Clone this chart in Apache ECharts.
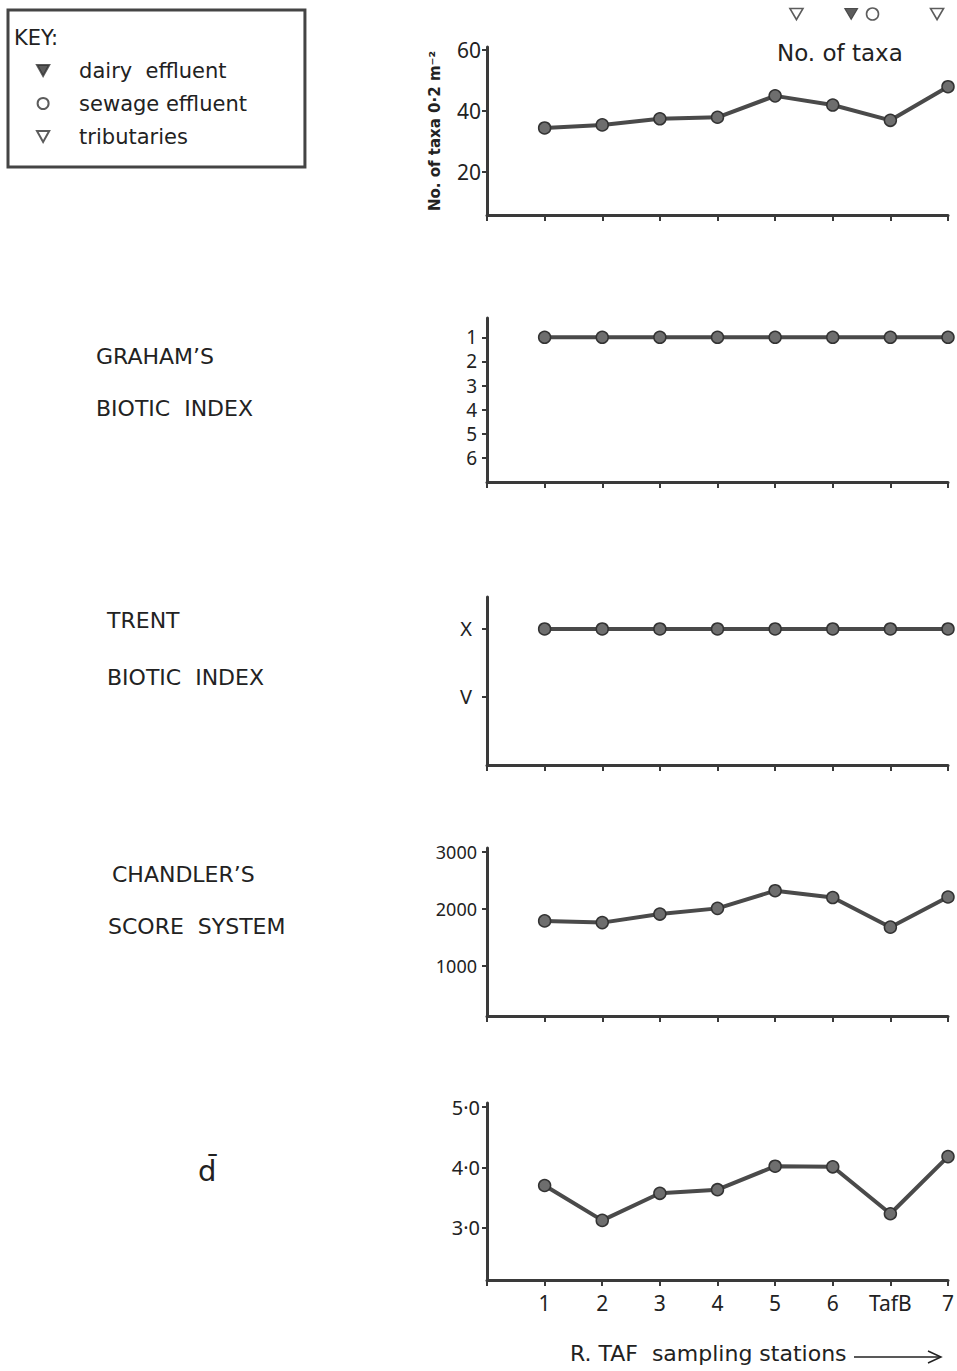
<!DOCTYPE html>
<html>
<head>
<meta charset="utf-8">
<script src="https://cdn.jsdelivr.net/npm/echarts@6/dist/echarts.min.js"></script>
<style>
html,body{margin:0;padding:0;background:#fff;}
#chart{width:957px;height:1371px;}
</style>
</head>
<body>
<div id="chart"></div>
<script>
// ---- data ----
const stations = ['', '1', '2', '3', '4', '5', '6', 'TafB', '7'];
const taxa = [34.5, 35.5, 37.5, 38, 45, 42, 37, 48];
const graham = [1, 1, 1, 1, 1, 1, 1, 1];
const trent = [10, 10, 10, 10, 10, 10, 10, 10];
const chandler = [1790, 1760, 1910, 2010, 2320, 2200, 1680, 2210];
const dbar = [3.7, 3.12, 3.57, 3.63, 4.02, 4.01, 3.23, 4.18];

const taxaTicks = [20, 40, 60];
const grahamTicks = [1, 2, 3, 4, 5, 6];
const trentTicks = [5, 10];
const trentTickLabels = ['V', 'X'];
const chandlerTicks = [1000, 2000, 3000];
const dTicks = [3, 4, 5];

// input positions along the river (station index scale)
const dairyPos = [6.32];
const sewagePos = [6.69];
const tributaryPos = [5.37, 7.81];

const legendNames = ['dairy  effluent', 'sewage effluent', 'tributaries'];

// ---- styles ----
const INK = '#3a3a3a';
const FONT = '"Noto Sans", "DejaVu Sans", sans-serif';
const WIDE = '"DejaVu Sans", sans-serif';
const downTri = 'path://M0,0L10,0L5,9Z';

const chart = echarts.init(document.getElementById('chart'), null, {renderer: 'svg'});

const gridsPx = [
  {top: 4, height: 20},      // input markers
  {top: 47, height: 168},    // taxa
  {top: 318, height: 164},   // graham
  {top: 597, height: 168},   // trent
  {top: 848, height: 168},   // chandler
  {top: 1103, height: 177}   // d bar
];
const grid = gridsPx.map(g => ({left: 487, right: 9, top: g.top, height: g.height, containLabel: false}));

function xAx(i, showLabels) {
  return {
    type: 'value', gridIndex: i, min: 0, max: 8, interval: 1,
    show: i !== 0,
    axisLine: {show: true, onZero: false, lineStyle: {color: INK, width: 3}},
    axisTick: {show: true, length: 6, lineStyle: {color: INK, width: 2}},
    axisLabel: {show: showLabels, margin: 12, fontSize: 21, color: '#222', fontFamily: FONT,
      formatter: v => stations[v] || ''},
    splitLine: {show: false}
  };
}
function yAx(i, o) {
  return Object.assign({
    type: 'value', gridIndex: i,
    axisLine: {show: true, onZero: false, lineStyle: {color: INK, width: 3}},
    axisTick: {show: true, length: 5, customValues: o.ticks, lineStyle: {color: INK, width: 2}},
    axisLabel: {show: true, margin: o.margin || 8, fontSize: o.size || 20, lineHeight: o.lh || undefined,
      color: '#222', fontFamily: FONT, customValues: o.ticks, formatter: o.fmt || (v => String(v))},
    splitLine: {show: false}
  }, o.extra);
}

const xAxis = [xAx(0, false), xAx(1, false), xAx(2, false), xAx(3, false), xAx(4, false), xAx(5, true)];
const yAxis = [
  {type: 'value', gridIndex: 0, min: 0, max: 1, show: false},
  yAx(1, {ticks: taxaTicks, margin: 6, size: 21, extra: {min: 6, max: 61,
    name: 'No. of taxa 0·2 m⁻²', nameLocation: 'middle', nameRotate: 90, nameGap: 45,
    nameTextStyle: {fontSize: 15, fontWeight: 'bold', color: '#222', fontFamily: WIDE}}}),
  yAx(2, {ticks: grahamTicks, margin: 10, size: 19, lh: 20, extra: {min: 0.2, max: 7, inverse: true}}),
  yAx(3, {ticks: trentTicks, margin: 15, fmt: v => trentTickLabels[trentTicks.indexOf(v)] || '', extra: {min: 0, max: 12.35}}),
  yAx(4, {ticks: chandlerTicks, margin: 10, size: 18, extra: {min: 120, max: 3070}}),
  yAx(5, {ticks: dTicks, margin: 7, fmt: v => v.toFixed(1).replace('.', '·'), extra: {min: 2.13, max: 5.07}})
];

function lineSeries(i, arr) {
  return {
    type: 'line', xAxisIndex: i, yAxisIndex: i,
    data: arr.map((v, k) => [k + 1, v]),
    symbol: 'circle', symbolSize: 12,
    lineStyle: {color: '#4a4a4a', width: 4},
    itemStyle: {color: '#6e6e6e', borderColor: '#333', borderWidth: 1.5},
    silent: true, animation: false, z: 3
  };
}

const series = [
  {name: legendNames[0], type: 'scatter', xAxisIndex: 0, yAxisIndex: 0,
    data: dairyPos.map(p => [p, 0.5]), symbol: downTri, symbolSize: [13, 11],
    itemStyle: {color: '#333', borderColor: '#333', borderWidth: 1}},
  {name: legendNames[1], type: 'scatter', xAxisIndex: 0, yAxisIndex: 0,
    data: sewagePos.map(p => [p, 0.5]), symbol: 'circle', symbolSize: 12,
    itemStyle: {color: '#fff', borderColor: '#333', borderWidth: 1.6}},
  {name: legendNames[2], type: 'scatter', xAxisIndex: 0, yAxisIndex: 0,
    data: tributaryPos.map(p => [p, 0.5]), symbol: downTri, symbolSize: [13, 11],
    itemStyle: {color: '#fff', borderColor: '#333', borderWidth: 1.6}},
  lineSeries(1, taxa),
  lineSeries(2, graham),
  lineSeries(3, trent),
  lineSeries(4, chandler),
  lineSeries(5, dbar)
];

const txt = (left, top, text, size, extra) => ({
  type: 'text', left, top,
  style: Object.assign({text, fontSize: size || 21, fill: '#222', fontFamily: WIDE}, extra || {})
});

const option = {
  animation: false,
  backgroundColor: '#fff',
  grid, xAxis, yAxis, series,
  legend: {
    data: legendNames, orient: 'vertical', left: 8, top: 10,
    itemWidth: 62, itemHeight: 11, itemGap: 12,
    padding: [50, 58, 20, 28],
    borderColor: '#444', borderWidth: 3,
    selectedMode: false,
    textStyle: {fontSize: 21, color: '#222', fontFamily: WIDE, lineHeight: 20}
  },
  graphic: [
    txt(14, 27, 'KEY:', 21),
    txt(777, 41, 'No. of taxa', 23),
    txt(96, 345, 'GRAHAM’S', 22),
    txt(96, 397, 'BIOTIC  INDEX', 22),
    txt(107, 609, 'TRENT', 22),
    txt(107, 666, 'BIOTIC  INDEX', 22),
    txt(112, 863, 'CHANDLER’S', 22),
    txt(108, 915, 'SCORE  SYSTEM', 22),
    txt(198, 1156, 'd̄', 29),
    txt(570, 1342, 'R. TAF  sampling stations', 22),
    {type: 'polyline', shape: {points: [[854, 1357], [940, 1357]]}, style: {stroke: '#222', lineWidth: 1.5}},
    {type: 'polyline', shape: {points: [[928, 1351], [941, 1357], [928, 1363]]}, style: {stroke: '#222', lineWidth: 1.5, fill: null}}
  ]
};
chart.setOption(option);
</script>
</body>
</html>
